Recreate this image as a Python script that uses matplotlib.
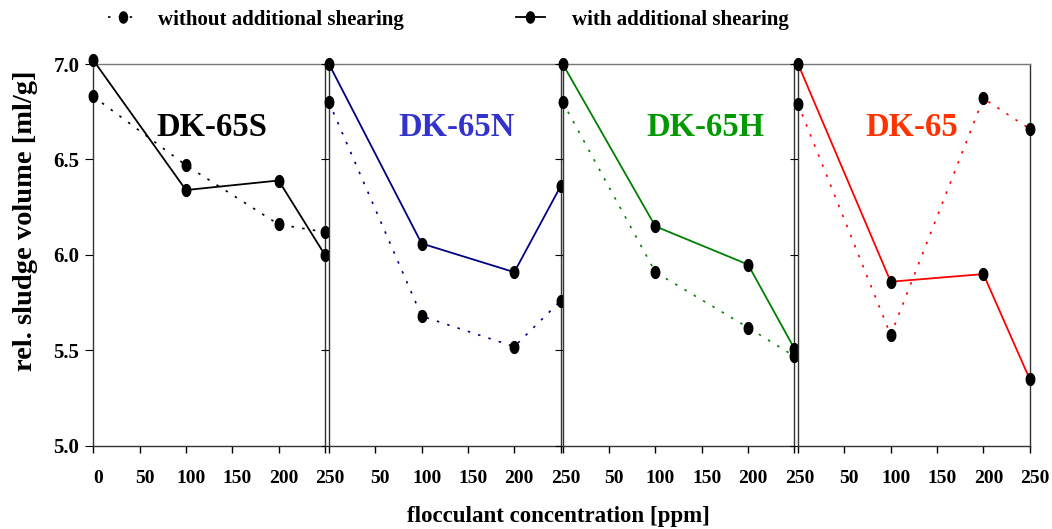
import numpy as np
import matplotlib
matplotlib.use("Agg")
import matplotlib.pyplot as plt
from matplotlib.path import Path
from matplotlib.lines import Line2D
import matplotlib.transforms as mtransforms

# ---- data -------------------------------------------------------------
concentration = [0, 100, 200, 250]

products = ["DK-65S", "DK-65N", "DK-65H", "DK-65"]

with_shearing = [
    [7.02, 6.34, 6.39, 6.00],   # DK-65S
    [7.00, 6.06, 5.91, 6.36],   # DK-65N
    [7.00, 6.15, 5.95, 5.51],   # DK-65H
    [7.00, 5.86, 5.90, 5.35],   # DK-65
]
without_shearing = [
    [6.83, 6.47, 6.16, 6.12],   # DK-65S
    [6.80, 5.68, 5.52, 5.76],   # DK-65N
    [6.80, 5.91, 5.62, 5.47],   # DK-65H
    [6.79, 5.58, 6.82, 6.66],   # DK-65
]

x_ticks = [0, 50, 100, 150, 200, 250]
y_ticks = [5.0, 5.5, 6.0, 6.5, 7.0]

# ---- styling ----------------------------------------------------------
line_colors = ["#000000", "#000080", "#008000", "#FF0000"]
title_colors = ["#000000", "#3333CC", "#009900", "#FF3300"]
title_x = [128, 138, 154, 123]
title_y = 6.665

plt.rcParams["font.family"] = ["Liberation Serif", "DejaVu Serif"]
plt.rcParams["font.weight"] = "bold"

# vertically elongated dot marker
t = np.linspace(0, 2 * np.pi, 60)
ellipse = Path(np.column_stack([0.72 * np.cos(t), np.sin(t)]), closed=True)

fig = plt.figure(figsize=(10.52, 5.29), dpi=100)

lefts = [0.0887, 0.3127, 0.5349, 0.7586]
width = 0.2202
bottom, height = 0.157, 0.722

dotted = (0, (1.5, 5))
mk = dict(marker=ellipse, markersize=8.5, markerfacecolor="black",
          markeredgecolor="black", clip_on=False, zorder=5)

label_shift = mtransforms.ScaledTranslation(5 / 100, 0, fig.dpi_scale_trans)

for i, ax_left in enumerate(lefts):
    ax = fig.add_axes([ax_left, bottom, width, height])
    ax.plot(concentration, without_shearing[i], color=line_colors[i],
            lw=1.2, linestyle=dotted, **mk)
    ax.plot(concentration, with_shearing[i], color=line_colors[i],
            lw=1.3, linestyle="-", **mk)

    ax.set_xlim(0, 250)
    ax.set_ylim(5.0, 7.0)
    ax.set_xticks(x_ticks)
    ax.set_yticks(y_ticks)
    if i == 0:
        ax.set_xticklabels([str(v) for v in x_ticks])
        ax.set_yticklabels([f"{v:.1f}" for v in y_ticks])
    else:
        ax.set_xticklabels([""] + [str(v) for v in x_ticks[1:]])
        ax.set_yticklabels([])

    ax.tick_params(axis="x", direction="out", length=5, width=1,
                   pad=12, labelsize=14, colors="black")
    ax.tick_params(axis="y", direction="out", length=6, width=0.8,
                   pad=4, labelsize=15, colors="black")
    for lbl in ax.get_xticklabels():
        lbl.set_fontweight("bold")
        lbl.set_transform(lbl.get_transform() + label_shift)
    for lbl in ax.get_yticklabels():
        lbl.set_fontweight("bold")

    for side, sp in ax.spines.items():
        sp.set_linewidth(1.0)
        sp.set_color("#333333")
    ax.spines["top"].set_color("#777777")

    ax.text(title_x[i], title_y, products[i], color=title_colors[i],
            fontsize=23.5, fontweight="bold", ha="center", va="center")

fig.text(0.024, 0.582, "rel. sludge volume [ml/g]", rotation=90,
         ha="center", va="center", fontsize=20.5, fontweight="bold")
fig.text(0.531, 0.024, "flocculant concentration [ppm]",
         ha="center", va="center", fontsize=16.5, fontweight="bold")

# legend entries
h_without = Line2D([], [], color="black", lw=1.2, linestyle=dotted,
                   marker=ellipse, markersize=8, markerfacecolor="black")
h_with = Line2D([], [], color="black", lw=1.3, linestyle="-",
                marker=ellipse, markersize=8, markerfacecolor="black")
fig.legend([h_without], ["without additional shearing"],
           loc="center left", bbox_to_anchor=(0.0853, 0.963),
           frameon=False, handlelength=1.4, handletextpad=0.99,
           prop=dict(size=15, weight="bold"))
fig.legend([h_with], ["with additional shearing"],
           loc="center left", bbox_to_anchor=(0.4722, 0.963),
           frameon=False, handlelength=1.4, handletextpad=1.32,
           prop=dict(size=15, weight="bold"))

fig.savefig("out.png", dpi=100)
